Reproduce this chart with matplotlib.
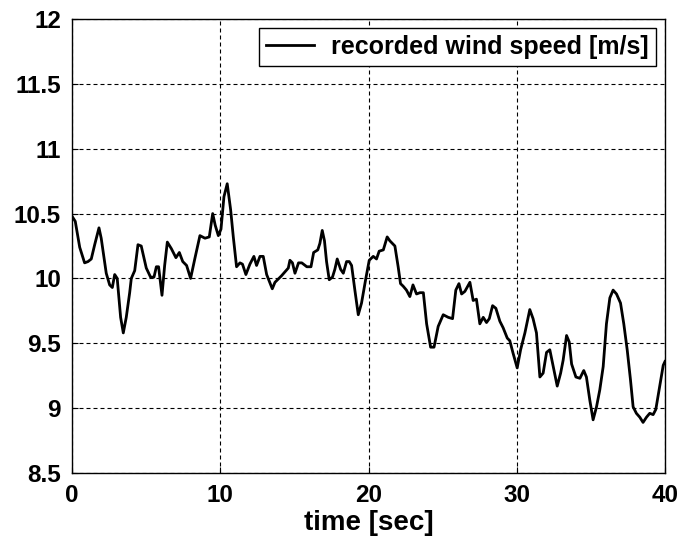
import matplotlib
matplotlib.use("Agg")
import matplotlib.pyplot as plt

plt.rcParams['font.family'] = ['Liberation Sans', 'DejaVu Sans']
plt.rcParams['font.weight'] = 'bold'

time_s = [0, 0.22, 0.52, 0.85, 1.08, 1.3, 1.53, 1.82, 1.97, 2.31, 2.54, 2.72, 2.88, 3.05, 3.28, 3.46,
          3.66, 3.89, 4.0, 4.23, 4.45, 4.67, 5.01, 5.3, 5.53, 5.69, 5.84, 6.07, 6.25, 6.43, 6.7, 7.01,
          7.24, 7.47, 7.73, 8.0, 8.3, 8.63, 8.97, 9.26, 9.49, 9.66, 9.87, 10.05, 10.25, 10.47, 10.7,
          10.88, 11.1, 11.33, 11.5, 11.73, 12.0, 12.27, 12.45, 12.68, 12.9, 13.13, 13.51, 13.69, 14.13,
          14.59, 14.7, 14.87, 15.04, 15.28, 15.5, 15.84, 16.12, 16.3, 16.58, 16.72, 16.88, 17.03, 17.17,
          17.35, 17.57, 17.73, 17.89, 18.12, 18.3, 18.52, 18.7, 18.86, 19.08, 19.31, 19.53, 19.82, 20.05,
          20.32, 20.54, 20.72, 21.0, 21.26, 21.44, 21.78, 22.0, 22.16, 22.34, 22.56, 22.79, 23.0, 23.24,
          23.47, 23.7, 23.92, 24.19, 24.42, 24.7, 25.04, 25.38, 25.67, 25.89, 26.1, 26.28, 26.5, 26.84,
          27.06, 27.28, 27.51, 27.74, 27.96, 28.15, 28.37, 28.59, 28.86, 29.08, 29.36, 29.53, 29.76,
          30.03, 30.26, 30.55, 30.88, 31.1, 31.33, 31.56, 31.78, 32.01, 32.23, 32.46, 32.73, 32.96,
          33.13, 33.36, 33.54, 33.7, 33.99, 34.26, 34.52, 34.7, 34.93, 35.15, 35.38, 35.6, 35.83, 36.05,
          36.28, 36.5, 36.73, 37.0, 37.22, 37.45, 37.67, 37.85, 38.07, 38.3, 38.52, 38.75, 38.97, 39.2,
          39.38, 39.6, 39.88, 40.0]

wind_speed = [10.48, 10.44, 10.24, 10.12, 10.13, 10.15, 10.26, 10.39, 10.31, 10.04, 9.95, 9.93, 10.03,
              10.0, 9.7, 9.58, 9.7, 9.89, 10.0, 10.06, 10.26, 10.25, 10.08, 10.01, 10.01, 10.09, 10.09,
              9.87, 10.1, 10.28, 10.23, 10.16, 10.2, 10.13, 10.1, 10.0, 10.16, 10.33, 10.31, 10.32, 10.5,
              10.41, 10.33, 10.38, 10.63, 10.73, 10.53, 10.32, 10.09, 10.12, 10.11, 10.03, 10.11, 10.17,
              10.1, 10.17, 10.17, 10.03, 9.92, 9.97, 10.02, 10.08, 10.14, 10.12, 10.04, 10.12, 10.12,
              10.09, 10.09, 10.2, 10.22, 10.27, 10.37, 10.29, 10.13, 9.99, 10.01, 10.07, 10.15, 10.07,
              10.04, 10.13, 10.13, 10.1, 9.91, 9.72, 9.81, 10.0, 10.14, 10.17, 10.15, 10.21, 10.22, 10.32,
              10.29, 10.25, 10.09, 9.96, 9.94, 9.91, 9.86, 9.95, 9.88, 9.89, 9.89, 9.65, 9.47, 9.47, 9.63,
              9.72, 9.7, 9.69, 9.91, 9.96, 9.88, 9.9, 9.97, 9.83, 9.84, 9.65, 9.7, 9.66, 9.69, 9.79, 9.77,
              9.67, 9.62, 9.54, 9.52, 9.42, 9.31, 9.45, 9.58, 9.76, 9.69, 9.58, 9.24, 9.27, 9.43, 9.45,
              9.32, 9.17, 9.27, 9.37, 9.56, 9.51, 9.34, 9.24, 9.23, 9.29, 9.24, 9.06, 8.91, 9.01, 9.14,
              9.32, 9.65, 9.85, 9.91, 9.88, 9.81, 9.65, 9.45, 9.22, 9.01, 8.96, 8.93, 8.89, 8.93, 8.96,
              8.95, 8.99, 9.14, 9.33, 9.36]

x_ticks = [0, 10, 20, 30, 40]
y_ticks = [8.5, 9, 9.5, 10, 10.5, 11, 11.5, 12]
y_tick_labels = ['8.5', '9', '9.5', '10', '10.5', '11', '11.5', '12']

fig = plt.figure(figsize=(6.81, 5.36), dpi=100)
ax = fig.add_axes([72/681, 1 - 473/536, (665 - 72)/681, (473 - 19)/536])

ax.plot(time_s, wind_speed, color='black', lw=2.0, label='recorded wind speed [m/s]', zorder=3)

ax.set_xlim(0, 40)
ax.set_ylim(8.5, 12)
ax.set_xticks(x_ticks)
ax.set_yticks(y_ticks)
ax.set_yticklabels(y_tick_labels)
ax.tick_params(axis='both', labelsize=17.5, direction='in', length=4, width=0.8, pad=8)
for lbl in ax.get_xticklabels() + ax.get_yticklabels():
    lbl.set_fontweight('bold')

ax.grid(True, color='black', lw=0.8, linestyle=(0, (3.6, 2.7)))
for s in ax.spines.values():
    s.set_linewidth(1.0)
    s.set_color('black')

ax.set_xlabel('time [sec]', fontsize=20, fontweight='bold', labelpad=2)

leg = ax.legend(loc='upper right', bbox_to_anchor=(0.985, 0.981), borderaxespad=0,
                fancybox=False, framealpha=1, edgecolor='black', fontsize=18,
                handlelength=1.9, handletextpad=0.7, borderpad=0.28)
leg.get_frame().set_linewidth(1.0)
for t in leg.get_texts():
    t.set_fontweight('bold')

fig.savefig('out.png', dpi=100)
